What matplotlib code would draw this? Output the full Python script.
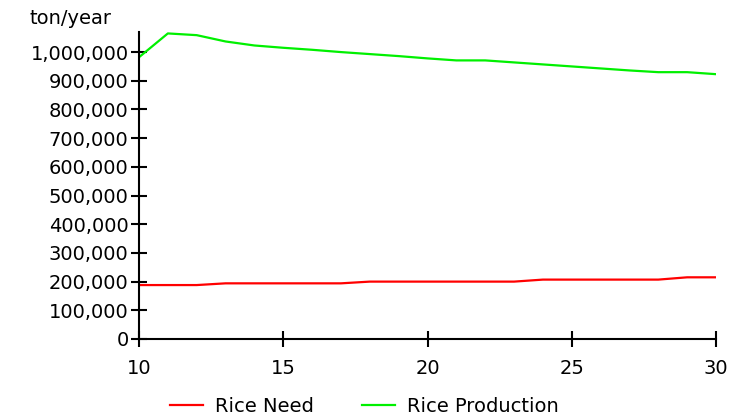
import matplotlib.pyplot as plt
from matplotlib.ticker import FuncFormatter

years = list(range(10, 31))
rice_need = [188000, 188000, 188000, 194000, 194000, 194000, 194000, 194000,
             200000, 200000, 200000, 200000, 200000, 200000,
             207000, 207000, 207000, 207000, 207000, 215000, 215000]
rice_production = [982000, 1065000, 1059000, 1037000, 1023000, 1015000, 1008000,
                   1000000, 993000, 986000, 978000, 971000, 971000, 964000,
                   957000, 950000, 943000, 936000, 930000, 930000, 923000]

fig = plt.figure(figsize=(7.29, 4.2), dpi=100)
ax = fig.add_axes([139/729, 1-339/420, (716-139)/729, (339-32)/420])

ax.plot(years, rice_need, color='#ff0000', lw=1.6, label='Rice Need')
ax.plot(years, rice_production, color='#00f000', lw=1.6, label='Rice Production')

ax.set_xlim(10, 30)
ax.set_ylim(0, 1070000)
ax.set_xticks([10, 15, 20, 25, 30])
ax.set_yticks(range(0, 1000001, 100000))
ax.yaxis.set_major_formatter(FuncFormatter(lambda v, p: f'{int(v):,}'))

for s in ['top', 'right']:
    ax.spines[s].set_visible(False)
for s in ['left', 'bottom']:
    ax.spines[s].set_linewidth(1.5)
ax.tick_params(direction='inout', length=11, width=1.5, labelsize=14, pad=2)
ax.tick_params(axis='x', pad=9)

fig.text(30/729, 1-18/420, 'ton/year', fontsize=14, va='center', ha='left')
fig.legend(loc='center', bbox_to_anchor=(0.5, 1-406/420), ncol=2, frameon=False,
           fontsize=14, handlelength=1.7, columnspacing=2.5, handletextpad=0.6)

fig.savefig('out.png', dpi=100)
